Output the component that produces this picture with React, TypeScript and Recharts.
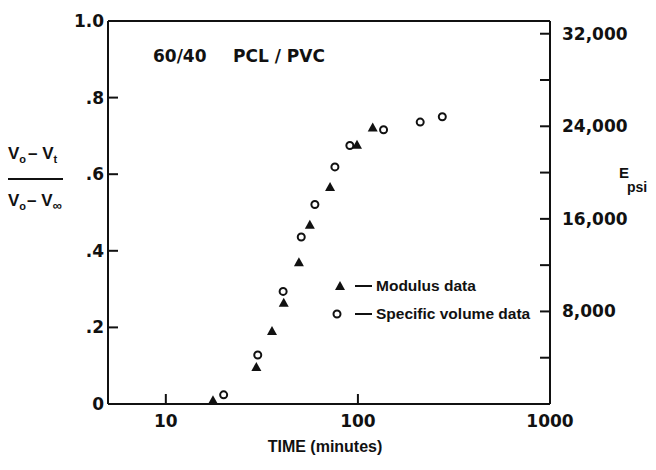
import {
  ScatterChart,
  Scatter,
  XAxis,
  YAxis,
  ReferenceLine,
  Legend,
  Customized,
} from "recharts";

// Crystallization of 60/40 PCL/PVC
// Modulus (E, psi) is read on the right axis, specific volume fraction on the left
const modulusTime = [17.6, 29.6, 35.7, 41.1, 49.3, 56.2, 71.6, 98.9, 119.4];
const modulusPsi = [330, 3200, 6300, 8750, 12250, 15500, 18750, 22400, 23900];
const volumeTime = [20, 30.1, 40.8, 50.7, 59.7, 75.9, 90.8, 136, 211, 275];
const volumeValue = [0.024, 0.128, 0.294, 0.436, 0.521, 0.619, 0.675, 0.716, 0.736, 0.75];

const timeTicks = [10, 100, 1000];
const fractionTicks = [0, 0.2, 0.4, 0.6, 0.8, 1.0];
const fractionTickLabels = ["0", ".2", ".4", ".6", ".8", "1.0"];
const modulusTicks = [0, 4000, 8000, 12000, 16000, 20000, 24000, 28000, 32000];
const legendLabels = ["Modulus data", "Specific volume data"];

const modulusData = modulusTime.map((t, i) => ({ time: t, psi: modulusPsi[i] }));
const volumeData = volumeTime.map((t, i) => ({ time: t, value: volumeValue[i] }));

const tickFont = "'DejaVu Sans', sans-serif";
const textFont = "'Liberation Sans', Arial, sans-serif";
const ink = "#111";

const Triangle = ({ cx, cy }: any) => (
  <path d={`M${cx},${cy - 5} L${cx + 5},${cy + 4} L${cx - 5},${cy + 4} Z`} fill={ink} />
);

const Ring = ({ cx, cy }: any) => (
  <circle cx={cx} cy={cy} r={3.5} fill="#fff" stroke={ink} strokeWidth={2} />
);

const LeftTick = ({ x, y, payload, index }: any) => (
  <g>
    {payload.value > 0 && payload.value < 1 && (
      <line x1={x} x2={x + 10} y1={y} y2={y} stroke={ink} strokeWidth={2} />
    )}
    <text x={x - 4} y={y} dy={6} textAnchor="end" fontFamily={tickFont} fontWeight="bold" fontSize={17} fill={ink}>
      {fractionTickLabels[index]}
    </text>
  </g>
);

const RightTick = ({ x, y, payload }: any) => (
  <g>
    {payload.value > 0 && <line x1={x - 10} x2={x} y1={y} y2={y} stroke={ink} strokeWidth={2} />}
    {payload.value > 0 && payload.value % 8000 === 0 && (
      <text x={x + 12} y={y} dy={6} fontFamily={tickFont} fontWeight="bold" fontSize={17} fill={ink}>
        {payload.value.toLocaleString("en-US")}
      </text>
    )}
  </g>
);

const BottomTick = ({ x, y, payload }: any) => (
  <g>
    {payload.value < 1000 && <line x1={x} x2={x} y1={y} y2={y - 10} stroke={ink} strokeWidth={2} />}
    <text x={x} y={y + 23} textAnchor="middle" fontFamily={tickFont} fontWeight="bold" fontSize={17} fill={ink}>
      {payload.value}
    </text>
  </g>
);

const LegendBox = () => (
  <div style={{ fontFamily: textFont, fontWeight: "bold", fontSize: 15.5, color: ink }}>
    {legendLabels.map((label, i) => (
      <div key={label} style={{ display: "flex", alignItems: "center", height: 28 }}>
        <svg width={46} height={20}>
          {i === 0 ? <Triangle cx={10} cy={10} /> : <Ring cx={7} cy={10} />}
          <line x1={25} x2={42} y1={10} y2={10} stroke={ink} strokeWidth={2} />
        </svg>
        <span>{label}</span>
      </div>
    ))}
  </div>
);

const Annotations = () => (
  <g fill={ink} fontWeight="bold">
    <text x={153} y={62} fontFamily={tickFont} fontSize={17}>60/40</text>
    <text x={233} y={62} fontFamily={tickFont} fontSize={17}>PCL / PVC</text>

    <text x={8} y={159} fontFamily={textFont} fontSize={17}>
      V<tspan fontSize={11} dy={4}>o</tspan>
      <tspan dy={-4} dx={2}>– V</tspan>
      <tspan fontSize={11} dy={4}>t</tspan>
    </text>
    <line x1={8} x2={63} y1={179} y2={179} stroke={ink} strokeWidth={2} />
    <text x={8} y={206} fontFamily={textFont} fontSize={17}>
      V<tspan fontSize={11} dy={4}>o</tspan>
      <tspan dy={-4} dx={1}>– V</tspan>
      <tspan fontSize={13} dy={4}>∞</tspan>
    </text>

    <text x={619} y={178} fontFamily={textFont} fontSize={15}>E</text>
    <text x={627} y={192} fontFamily={textFont} fontSize={14}>psi</text>

    <text x={325} y={452} textAnchor="middle" fontFamily={textFont} fontSize={16}>
      TIME (minutes)
    </text>
  </g>
);

export default function App() {
  return (
    <div style={{ position: "absolute", left: 0, top: 0, background: "#fff" }}>
      <ScatterChart width={656} height={470} margin={{ top: 21, right: 0, bottom: 0, left: 0 }}>
        <XAxis
          dataKey="time"
          type="number"
          scale="log"
          domain={[5, 1000]}
          ticks={timeTicks}
          allowDataOverflow
          height={66}
          axisLine={{ stroke: ink, strokeWidth: 2 }}
          tickLine={false}
          tickSize={0}
          tickMargin={0}
          tick={<BottomTick />}
        />
        <YAxis
          yAxisId="left"
          dataKey="value"
          type="number"
          domain={[0, 1]}
          ticks={fractionTicks}
          allowDataOverflow
          width={108}
          axisLine={{ stroke: ink, strokeWidth: 2 }}
          tickLine={false}
          tickSize={0}
          tickMargin={0}
          tick={<LeftTick />}
        />
        <YAxis
          yAxisId="right"
          dataKey="psi"
          orientation="right"
          type="number"
          domain={[0, 33100]}
          ticks={modulusTicks}
          allowDataOverflow
          width={106}
          axisLine={{ stroke: ink, strokeWidth: 2 }}
          tickLine={false}
          tickSize={0}
          tickMargin={0}
          tick={<RightTick />}
        />
        <ReferenceLine yAxisId="left" y={1} stroke={ink} strokeWidth={2} />
        <Scatter
          name="Modulus data"
          data={modulusData}
          dataKey="psi"
          yAxisId="right"
          shape={<Triangle />}
          isAnimationActive={false}
        />
        <Scatter
          name="Specific volume data"
          data={volumeData}
          dataKey="value"
          yAxisId="left"
          shape={<Ring />}
          isAnimationActive={false}
        />
        <Legend
          layout="vertical"
          align="center"
          verticalAlign="middle"
          content={<LegendBox />}
          wrapperStyle={{ left: 330, top: 272, width: 230 }}
        />
        <Customized component={<Annotations />} />
      </ScatterChart>
    </div>
  );
}
